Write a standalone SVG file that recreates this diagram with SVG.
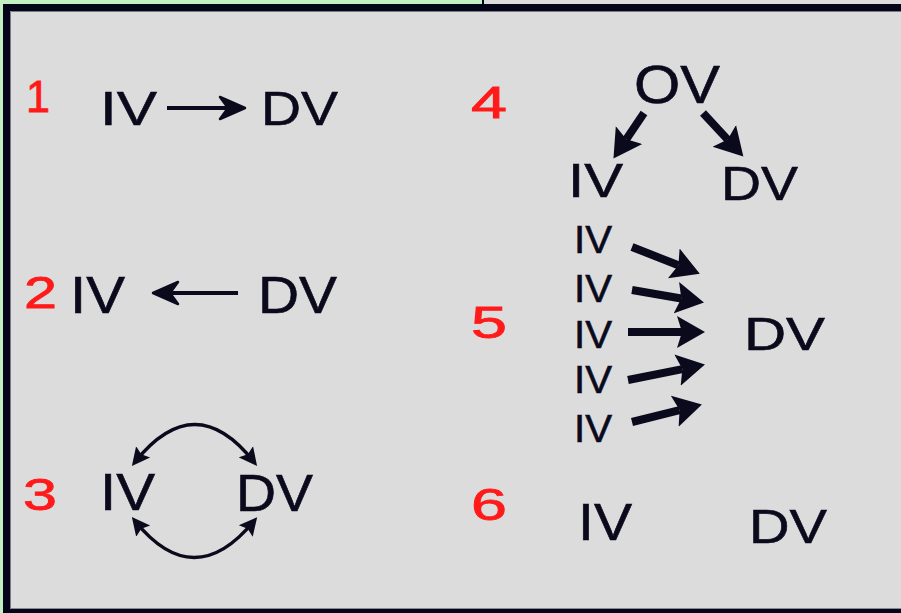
<svg xmlns="http://www.w3.org/2000/svg" width="901" height="613" viewBox="0 0 901 613">
  <style>
    .lbl { font-family: "Liberation Sans", Arial, sans-serif; fill: #0a0a1c; stroke: #0a0a1c; stroke-width: 0.6; }
    .num { font-family: "Liberation Sans", Arial, sans-serif; fill: #ff1a1a; stroke: #ff1a1a; stroke-width: 0.8; font-size: 44px; }
    .thin { stroke: #0a0a1c; stroke-width: 4; fill: none; }
    .mid { stroke: #0a0a1c; stroke-width: 3.5; fill: none; }
    .thick { stroke: #0a0a1c; stroke-width: 8; fill: none; }
  </style>
  <defs>
    <!-- barbed head for the thin straight arrows -->
    <marker id="barb" viewBox="-2 -14 32 28" refX="24" refY="0" markerWidth="32" markerHeight="28" markerUnits="userSpaceOnUse" orient="auto">
      <path d="M0,-11 L25,0 L0,11 L8,0 z" fill="#0a0a1c" stroke="#0a0a1c" stroke-width="2.5" stroke-linejoin="round"/>
    </marker>
    <!-- solid head for the curved arrows -->
    <marker id="small" viewBox="0 -10 18 20" refX="13" refY="0" markerWidth="18" markerHeight="20" markerUnits="userSpaceOnUse" orient="auto-start-reverse">
      <path d="M0,-9 L18,0 L0,9 L3,0 z" fill="#0a0a1c"/>
    </marker>
    <!-- large solid head for the thick arrows -->
    <marker id="big" viewBox="0 -17 29 34" refX="5" refY="0" markerWidth="29" markerHeight="34" markerUnits="userSpaceOnUse" orient="auto">
      <path d="M0,-16 L28,0 L0,16 L5,0 z" fill="#0a0a1c"/>
    </marker>
  </defs>

  <!-- frame -->
  <rect x="0" y="0" width="901" height="613" fill="#dcdcdc"/>
  <rect x="0" y="0" width="482" height="4" fill="#c2f0c2"/>
  <rect x="0" y="0" width="3" height="613" fill="#c2f0c2"/>
  <rect x="482" y="0" width="2" height="5" fill="#05051a"/>
  <rect x="3" y="4" width="898" height="609" fill="#05051a"/>
  <rect x="10" y="11" width="891" height="598" fill="#dcdcdc"/>
  <path d="M10.5,609 V11.5 H901" stroke="#7a7a84" stroke-width="1" fill="none"/>
  <path d="M10.5,608.5 H901" stroke="#8a8a92" stroke-width="1" fill="none"/>

  <!-- case numbers -->
  <g id="numbers">
    <text class="num" x="26" y="112" textLength="24" lengthAdjust="spacingAndGlyphs">1</text>
    <text class="num" x="24" y="308" textLength="33" lengthAdjust="spacingAndGlyphs">2</text>
    <text class="num" x="23" y="510" textLength="34" lengthAdjust="spacingAndGlyphs">3</text>
    <text class="num" x="471" y="118" textLength="36" lengthAdjust="spacingAndGlyphs">4</text>
    <text class="num" x="471" y="338" textLength="36" lengthAdjust="spacingAndGlyphs">5</text>
    <text class="num" x="471" y="520" textLength="36" lengthAdjust="spacingAndGlyphs">6</text>
  </g>

  <!-- 1: IV causes DV -->
  <g id="n1-iv"><text class="lbl" x="100" y="125" font-size="49" textLength="57" lengthAdjust="spacingAndGlyphs">IV</text></g>
  <g id="n1-dv"><text class="lbl" x="261" y="125" font-size="49" textLength="77" lengthAdjust="spacingAndGlyphs">DV</text></g>

  <!-- 2: DV causes IV -->
  <g id="n2-iv"><text class="lbl" x="70" y="313" font-size="52" textLength="55" lengthAdjust="spacingAndGlyphs">IV</text></g>
  <g id="n2-dv"><text class="lbl" x="258" y="313" font-size="51" textLength="79" lengthAdjust="spacingAndGlyphs">DV</text></g>

  <!-- 3: mutual causation -->
  <g id="n3-iv"><text class="lbl" x="100" y="510" font-size="52" textLength="55" lengthAdjust="spacingAndGlyphs">IV</text></g>
  <g id="n3-dv"><text class="lbl" x="236" y="511" font-size="52" textLength="77" lengthAdjust="spacingAndGlyphs">DV</text></g>

  <!-- 4: other variable -->
  <g id="n4-ov"><text class="lbl" x="634" y="103" font-size="53" textLength="86" lengthAdjust="spacingAndGlyphs">OV</text></g>
  <g id="n4-iv"><text class="lbl" x="568" y="197" font-size="49" textLength="55" lengthAdjust="spacingAndGlyphs">IV</text></g>
  <g id="n4-dv"><text class="lbl" x="721" y="200" font-size="49" textLength="77" lengthAdjust="spacingAndGlyphs">DV</text></g>

  <!-- 5: many causes -->
  <g id="n5-iv1"><text class="lbl" x="574" y="253" font-size="39" textLength="38" lengthAdjust="spacingAndGlyphs">IV</text></g>
  <g id="n5-iv2"><text class="lbl" x="574" y="302" font-size="39" textLength="38" lengthAdjust="spacingAndGlyphs">IV</text></g>
  <g id="n5-iv3"><text class="lbl" x="574" y="348" font-size="39" textLength="38" lengthAdjust="spacingAndGlyphs">IV</text></g>
  <g id="n5-iv4"><text class="lbl" x="574" y="393" font-size="39" textLength="38" lengthAdjust="spacingAndGlyphs">IV</text></g>
  <g id="n5-iv5"><text class="lbl" x="574" y="442" font-size="39" textLength="38" lengthAdjust="spacingAndGlyphs">IV</text></g>
  <g id="n5-dv"><text class="lbl" x="744" y="350" font-size="46" textLength="81" lengthAdjust="spacingAndGlyphs">DV</text></g>

  <!-- 6: no relation -->
  <g id="n6-iv"><text class="lbl" x="578" y="540" font-size="52" textLength="54" lengthAdjust="spacingAndGlyphs">IV</text></g>
  <g id="n6-dv"><text class="lbl" x="749" y="543" font-size="49" textLength="78" lengthAdjust="spacingAndGlyphs">DV</text></g>

  <!-- connectors -->
  <g id="connectors">
    <path class="thin" d="M167,108 H244" marker-end="url(#barb)"/>
    <path class="thin" d="M238,293 H154" marker-end="url(#barb)"/>

    <path class="mid" d="M135,462 Q195,387 254,462" marker-start="url(#small)" marker-end="url(#small)"/>
    <path class="mid" d="M135,521 Q194,594 254,521" marker-start="url(#small)" marker-end="url(#small)"/>

    <path class="thick" d="M644,113 L626.3,139.3" marker-end="url(#big)"/>
    <path class="thick" d="M703,113 L727.7,139.6" marker-end="url(#big)"/>

    <path class="thick" d="M632,247 L678.4,265.3" marker-end="url(#big)"/>
    <path class="thick" d="M632,290 L681.3,298.5" marker-end="url(#big)"/>
    <path class="thick" d="M628,332 L682,332" marker-end="url(#big)"/>
    <path class="thick" d="M628,380 L682.4,369.1" marker-end="url(#big)"/>
    <path class="thick" d="M632,422 L679.6,410.1" marker-end="url(#big)"/>
  </g>
</svg>
